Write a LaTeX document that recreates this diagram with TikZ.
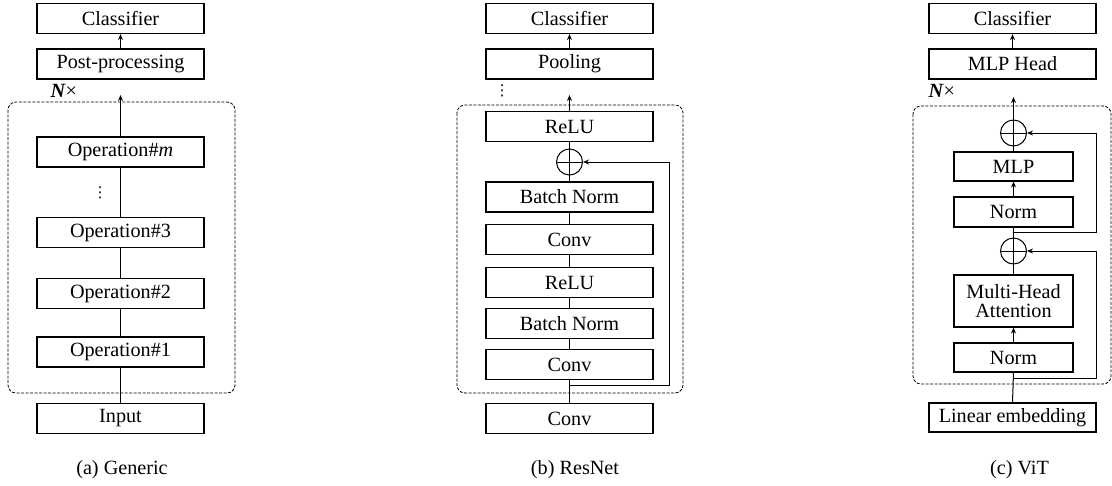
\documentclass[tikz,border=0pt]{standalone}
\usepackage{fontspec}
\setmainfont{Liberation Serif}
\newfontfamily\symfont{DejaVu Sans}
\usetikzlibrary{arrows.meta,calc}
\begin{document}
\begin{tikzpicture}[x=1pt,y=-1pt,
  blk/.style={draw,line width=1.1pt,minimum height=30pt,inner sep=0pt,font=\fontsize{20.2}{22}\selectfont},
  wide/.style={blk,minimum width=167pt},
  narrow/.style={blk,minimum width=119pt},
  grp/.style={draw,line width=0.8pt,dash pattern=on 3pt off 1.5pt,rounded corners=8pt},
  lnk/.style={line width=1pt},
  arr/.style={line width=1pt,-{Stealth[length=6pt,width=5pt]}},
  plus/.style={draw,circle,line width=1pt,minimum size=26pt,inner sep=0pt},
  captxt/.style={font=\fontsize{20.2}{22}\selectfont},
  nx/.style={font=\fontsize{20.2}{22}\selectfont,anchor=west},
  dots/.style={font=\symfont\fontsize{15}{15}\selectfont,inner sep=0pt}]
\useasboundingbox (0,0) rectangle (1112,485);

% ---------------- (a) Generic ----------------
\draw[grp] (8,102) rectangle (235,393);
\node[wide] (aC) at (120.5,18.5) {Classifier};
\node[wide] (aP) at (120.5,64) {Post-processing};
\node[wide] (aM) at (120.5,152) {Operation\#\textit{m}};
\node[wide] (a3) at (120.5,232.5) {Operation\#3};
\node[wide] (a2) at (120.5,293.5) {Operation\#2};
\node[wide] (a1) at (120.5,352) {Operation\#1};
\node[wide] (aI) at (120.5,418.5) {Input};
\node[nx] (aN) at (47,91) {\textbf{\textit{N}}×};
\node[dots] (aD) at (100,193) {⋮};
\coordinate (aT) at (120.5,95);
\draw[arr] (aP.north) -- (aC.south);
\draw[arr] (aM.north) -- (aT);
\draw[lnk] (aM.south) -- (a3.north);
\draw[lnk] (a3.south) -- (a2.north);
\draw[lnk] (a2.south) -- (a1.north);
\draw[lnk] (a1.south) -- (aI.north);
\node[captxt] (aCap) at (122,470) {(a) Generic};

% ---------------- (b) ResNet ----------------
\draw[grp] (457,105) rectangle (683,393);
\node[wide] (bC) at (569.5,18.5) {Classifier};
\node[wide] (bP) at (569.5,64) {Pooling};
\node[dots] (bD) at (502,91) {⋮};
\node[wide] (bR2) at (569.5,126.5) {ReLU};
\node[plus] (bS) at (569.5,162) {};
\draw[lnk] (bS.north) -- (bS.south) (bS.west) -- (bS.east);
\node[wide] (bB2) at (569.5,197) {Batch Norm};
\node[wide] (bV2) at (569.5,239.5) {Conv};
\node[wide] (bR1) at (569.5,282.5) {ReLU};
\node[wide] (bB1) at (569.5,323.5) {Batch Norm};
\node[wide] (bV1) at (569.5,364.5) {Conv};
\node[wide] (bV0) at (569.5,418.5) {Conv};
\coordinate (bT) at (569.5,95);
\coordinate (bJ) at (569.5,385);
\coordinate (bK) at (669,385);
\draw[arr] (bP.north) -- (bC.south);
\draw[arr] (bR2.north) -- (bT);
\draw[lnk] (bS.north) -- (bR2.south);
\draw[lnk] (bB2.north) -- (bS.south);
\draw[lnk] (bV2.north) -- (bB2.south);
\draw[lnk] (bR1.north) -- (bV2.south);
\draw[lnk] (bB1.north) -- (bR1.south);
\draw[lnk] (bV1.north) -- (bB1.south);
\draw[lnk] (bV0.north) -- (bV1.south);
\draw[arr] (bJ) -- (bK) |- (bS.east);
\node[captxt] (bCap) at (575,470) {(b) ResNet};

% ---------------- (c) ViT ----------------
\draw[grp] (913,106) rectangle (1111,384);
\node[wide] (cC) at (1012.5,18.5) {Classifier};
\node[wide] (cH) at (1012.5,64) {MLP Head};
\node[nx] (cN) at (925,91) {\textbf{\textit{N}}×};
\node[plus] (cS1) at (1013.5,133) {};
\draw[lnk] (cS1.north) -- (cS1.south) (cS1.west) -- (cS1.east);
\node[narrow,minimum height=29pt] (cM) at (1013.5,166.5) {MLP};
\node[narrow] (cN2) at (1013.5,212) {Norm};
\node[plus] (cS2) at (1013.5,251) {};
\draw[lnk] (cS2.north) -- (cS2.south) (cS2.west) -- (cS2.east);
\node[narrow,minimum height=52pt,align=center] (cA) at (1013.5,301) {Multi-Head\\[-3pt]Attention};
\node[narrow,minimum height=29pt] (cN1) at (1013.5,357.5) {Norm};
\node[wide,minimum height=29pt] (cL) at (1012.5,417.5) {Linear embedding};
\coordinate (cT) at (1013.5,97);
\coordinate (cJ1) at (1013.5,232);
\coordinate (cK1) at (1096,232);
\coordinate (cJ2) at (1013.5,378);
\coordinate (cK2) at (1096,378);
\draw[arr] (cH.north) -- (cC.south);
\draw[arr] (cS1.north) -- (cT);
\draw[lnk] (cM.north) -- (cS1.south);
\draw[arr] (cN2.north) -- (cM.south);
\draw[lnk] (cS2.north) -- (cN2.south);
\draw[lnk] (cA.north) -- (cS2.south);
\draw[arr] (cN1.north) -- (cA.south);
\draw[lnk] (cL.north) -- (cN1.south);
\draw[arr] (cJ1) -- (cK1) |- (cS1.east);
\draw[arr] (cJ2) -- (cK2) |- (cS2.east);
\node[captxt] (cCap) at (1019.5,470) {(c) ViT};
\end{tikzpicture}
\end{document}
